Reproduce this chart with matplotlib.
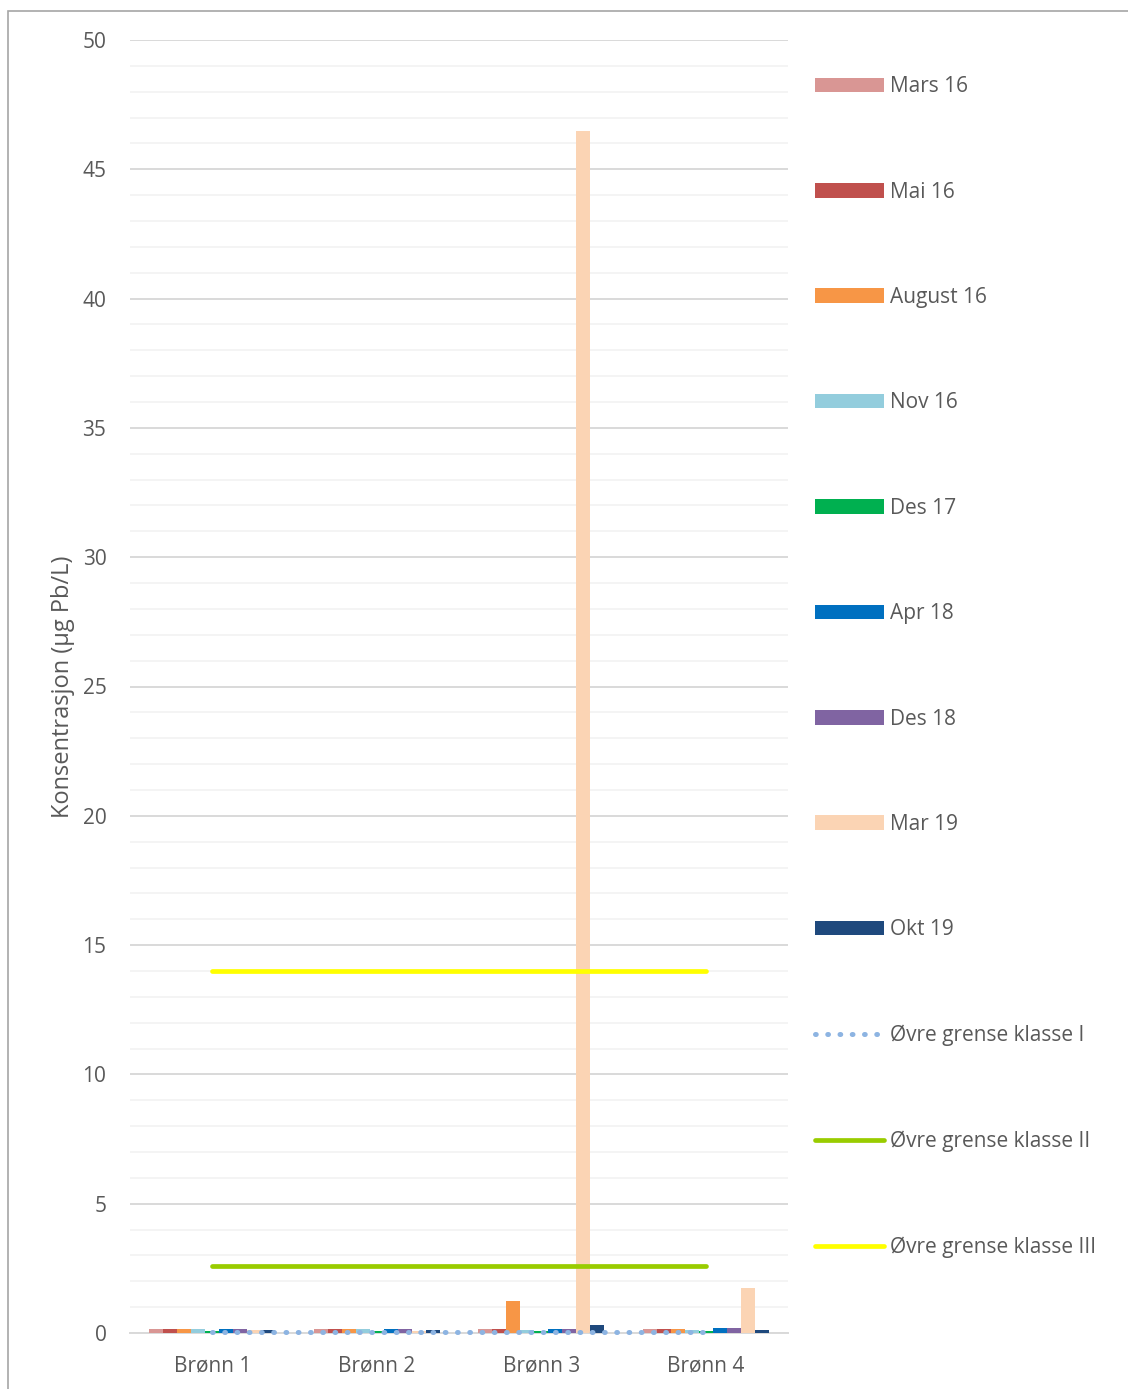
import numpy as np
import matplotlib
matplotlib.use('Agg')
import matplotlib.pyplot as plt
from matplotlib.patches import Rectangle
from matplotlib.ticker import MultipleLocator

plt.rcParams['font.family'] = ['Open Sans', 'DejaVu Sans']

wells = ['Brønn 1', 'Brønn 2', 'Brønn 3', 'Brønn 4']
series_names = ['Mars 16', 'Mai 16', 'August 16', 'Nov 16', 'Des 17',
                'Apr 18', 'Des 18', 'Mar 19', 'Okt 19']
series_colors = ['#D99694', '#C0504D', '#F79646', '#93CDDD', '#00B050',
                 '#0070C0', '#8064A2', '#FBD4B4', '#1F497D']
# values per series, one value per well
mars16 = [0.17, 0.15, 0.15, 0.15]
mai16 = [0.17, 0.17, 0.15, 0.15]
aug16 = [0.15, 0.15, 1.25, 0.15]
nov16 = [0.15, 0.15, 0.12, 0.12]
des17 = [0.08, 0.08, 0.08, 0.08]
apr18 = [0.17, 0.15, 0.15, 0.18]
des18 = [0.15, 0.15, 0.15, 0.18]
mar19 = [0.10, 0.08, 46.5, 1.75]
okt19 = [0.10, 0.12, 0.30, 0.12]
series_values = [mars16, mai16, aug16, nov16, des17, apr18, des18, mar19, okt19]

klasse1 = [0.02, 0.02, 0.02, 0.02]
klasse2 = [2.6, 2.6, 2.6, 2.6]
klasse3 = [14, 14, 14, 14]

fig = plt.figure(figsize=(11.28, 13.89), dpi=100)
fig.patches.append(Rectangle((8 / 1128, -0.05), 1.2, 1 - 11 / 1389 + 0.05,
                             transform=fig.transFigure, fill=False,
                             edgecolor='#A6A6A6', linewidth=1.2))
ax = fig.add_axes([130 / 1128, 56 / 1389, 658 / 1128, 1293 / 1389])

x = np.arange(len(wells))
bw = 0.0852
handles = []
for i, (name, vals, col) in enumerate(zip(series_names, series_values, series_colors)):
    b = ax.bar(x + (i - 4) * bw, vals, width=bw, color=col, label=name, zorder=3)
    handles.append(b)

l1, = ax.plot(x, klasse1, color='#8DB4E2', linewidth=3.6, linestyle=(0, (0.15, 2.3)),
              dash_capstyle='round', label='Øvre grense klasse I', zorder=5,
              clip_on=False)
l2, = ax.plot(x, klasse2, color='#99CC00', linewidth=3.4, solid_capstyle='round',
              label='Øvre grense klasse II', zorder=4)
l3, = ax.plot(x, klasse3, color='#FFFF00', linewidth=3.4, solid_capstyle='round',
              label='Øvre grense klasse III', zorder=4)
handles += [l1, l2, l3]

ax.set_xlim(-0.5, 3.5)
ax.set_ylim(0, 50)
ax.yaxis.set_major_locator(MultipleLocator(5))
ax.yaxis.set_minor_locator(MultipleLocator(1))
ax.grid(which='major', axis='y', color='#D9D9D9', linewidth=1.4, zorder=0)
ax.grid(which='minor', axis='y', color='#F2F2F2', linewidth=1.2, zorder=0)
ax.set_xticks(x)
ax.set_xticklabels(wells)
ax.tick_params(axis='both', which='both', length=0, colors='#595959', labelsize=15)
ax.tick_params(axis='y', pad=17)
ax.tick_params(axis='x', pad=16.5)
for s in ['top', 'right', 'left']:
    ax.spines[s].set_visible(False)
ax.spines['bottom'].set_color('#D9D9D9')
ax.spines['bottom'].set_linewidth(1.4)
ax.set_ylabel('Konsentrasjon (µg Pb/L)', fontsize=17, color='#595959', labelpad=5)

leg = fig.legend(handles=handles, loc='upper left',
                 bbox_to_anchor=(807 / 1128, 1 - 68 / 1389),
                 frameon=False, fontsize=15, labelcolor='#595959',
                 handlelength=3.3, handletextpad=0.3, labelspacing=4.05,
                 borderaxespad=0)

fig.savefig('out.png', dpi=100)
